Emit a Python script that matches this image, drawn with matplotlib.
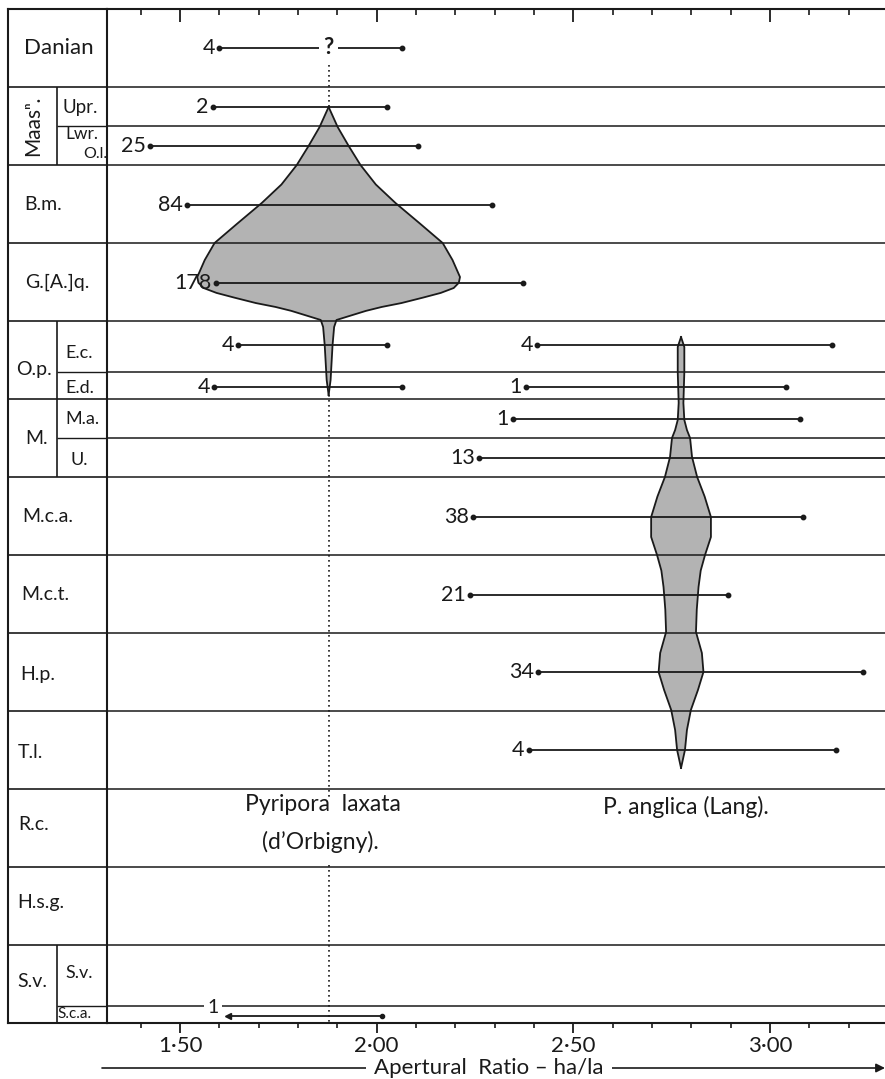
import numpy as np
import matplotlib.pyplot as plt
from matplotlib.patches import FancyArrowPatch
from matplotlib.ticker import FixedLocator, MultipleLocator

plt.rcParams['font.family'] = ['Lato', 'DejaVu Sans']

# zone scale: one main zone = 1 unit, counted down from the top of the chart
main_bounds = [1.0, 2.0, 3.0, 4.0, 5.0, 6.0, 7.0, 8.0, 9.0, 10.0, 11.0, 12.0]
sub_bounds = [1.5, 4.65, 5.5, 12.78]
inner_cols = [(1.0, 2.0), (4.0, 6.0), (12.0, 13.0)]

# zone names: (text, x in label column, y, size, rotation)
zone_labels = [
    ("Danian", 16, 0.50, 16, 0),
    ("Maasⁿ.", 25, 1.50, 15, 90),
    ("Upr.", 55, 1.26, 13.5, 0),
    ("Lwr.", 57, 1.60, 12.5, 0),
    ("O.l.", 75, 1.86, 11.5, 0),
    ("B.m.", 16, 2.50, 14, 0),
    ("G.[A.]q.", 17, 3.50, 14, 0),
    ("O.p.", 8, 4.62, 14, 0),
    ("E.c.", 57, 4.41, 13, 0),
    ("E.d.", 57, 4.86, 13, 0),
    ("M.", 17, 5.50, 14, 0),
    ("M.a.", 57, 5.26, 13, 0),
    ("U.", 62, 5.78, 13, 0),
    ("M.c.a.", 14, 6.51, 14, 0),
    ("M.c.t.", 13, 7.51, 14, 0),
    ("H.p.", 12, 8.53, 14, 0),
    ("T.l.", 10, 9.53, 14, 0),
    ("R.c.", 10, 10.46, 14, 0),
    ("H.s.g.", 9, 11.46, 14, 0),
    ("S.v.", 9, 12.47, 14, 0),
    ("S.v.", 57, 12.36, 13, 0),
    ("S.c.a.", 49, 12.89, 11, 0),
]

# Pyripora laxata: observed ranges of the apertural ratio
lax_y = [0.50, 1.26, 1.76, 2.51, 3.51, 4.31, 4.85]
lax_lo = [1.600, 1.584, 1.424, 1.518, 1.592, 1.648, 1.587]
lax_hi = [2.065, 2.026, 2.105, 2.293, 2.372, 2.026, 2.065]
lax_n = ["4", "2", "25", "84", "178", "4", "4"]
lax_mid = 1.878
sca_y, sca_lo, sca_hi, sca_n = 12.91, 1.622, 2.014, "1"

# P. anglica: observed ranges
ang_y = [4.31, 4.85, 5.26, 5.76, 6.51, 7.51, 8.50, 9.50]
ang_lo = [2.408, 2.380, 2.347, 2.260, 2.245, 2.238, 2.410, 2.387]
ang_hi = [3.158, 3.041, 3.077, 3.400, 3.084, 2.893, 3.237, 3.168]
ang_n = ["4", "1", "1", "13", "38", "21", "34", "4"]
ang_mid = 2.774

# spindle outlines: level and half width (ratio units)
lax_sy = [1.256, 1.513, 1.756, 2.0, 2.25, 2.487, 2.75, 3.0, 3.218, 3.436, 3.51, 3.577,
          3.64, 3.70, 3.77, 3.82, 3.87, 3.94, 3.987, 4.077, 4.308, 4.756, 4.949]
lax_hw = [0.0, 0.023, 0.051, 0.081, 0.120, 0.170, 0.232, 0.290, 0.315, 0.334, 0.331, 0.318,
          0.285, 0.240, 0.185, 0.135, 0.095, 0.050, 0.020, 0.014, 0.010, 0.005, 0.0]
ang_sy = [4.205, 4.333, 4.654, 5.051, 5.269, 5.397, 5.5, 5.744, 6.0, 6.25, 6.513, 6.769,
          7.0, 7.2, 7.41, 7.7, 7.987, 8.256, 8.5, 8.731, 8.987, 9.244, 9.5, 9.731]
ang_hw = [0.0, 0.0084, 0.0084, 0.006, 0.0084, 0.015, 0.023, 0.028, 0.041, 0.060, 0.076, 0.076,
          0.061, 0.050, 0.0445, 0.040, 0.038, 0.053, 0.057, 0.043, 0.025, 0.015, 0.010, 0.0]

ticks_major = [1.5, 2.0, 2.5, 3.0]
tick_labels = ["1·50", "2·00", "2·50", "3·00"]

W, H = 885, 1079
fig = plt.figure(figsize=(W / 100, H / 100), dpi=100)
top_px, bot_px, sep_px = 9, 1023, 107
axl = fig.add_axes([8 / W, 1 - bot_px / H, (sep_px - 8) / W, (bot_px - top_px) / H])
ax = fig.add_axes([sep_px / W, 1 - bot_px / H, (W - sep_px) / W, (bot_px - top_px) / H])

ink = "#1a1a1a"
lw_frame = 1.5

# label column
axl.set_xlim(0, 99)
axl.set_ylim(13, 0)
axl.set_xticks([])
axl.set_yticks([])
for s in ["left", "top", "bottom"]:
    axl.spines[s].set_linewidth(lw_frame)
    axl.spines[s].set_color(ink)
axl.spines["right"].set_visible(False)
axl.hlines(main_bounds, 0, 99, color=ink, lw=1.2)
axl.hlines(sub_bounds, 49, 99, color=ink, lw=1.0)
for y0, y1 in inner_cols:
    axl.vlines(49, y0, y1, color=ink, lw=1.2)
for txt, x, y, size, rot in zone_labels:
    axl.text(x, y, txt, fontsize=size, rotation=rot, ha="left" if rot == 0 else "center",
             va="center", color=ink)

# data area
ax.set_xlim(1.3145, 3.2926)
ax.set_ylim(13, 0)
ax.set_yticks([])
ax.spines["right"].set_visible(False)
for s in ["left", "top", "bottom"]:
    ax.spines[s].set_linewidth(lw_frame)
    ax.spines[s].set_color(ink)
ax.xaxis.set_major_locator(FixedLocator(ticks_major))
ax.set_xticklabels(tick_labels, fontsize=16, color=ink)
ax.xaxis.set_minor_locator(MultipleLocator(0.1))
ax.tick_params(axis="x", which="major", direction="out", length=7, width=1.3, pad=2,
               top=True, color=ink)
ax.tick_params(axis="x", which="minor", direction="out", length=3.5, width=1.2,
               top=True, color=ink)
# ticks on the top edge point inwards
for t in ax.xaxis.get_major_ticks():
    t.tick2line.set_marker(3)
    t.tick2line.set_markersize(9)
for t in ax.xaxis.get_minor_ticks():
    t.tick2line.set_marker(3)
    t.tick2line.set_markersize(4.5)

ax.hlines(main_bounds + sub_bounds, 1.2, 3.4, color=ink, lw=1.1, zorder=3)

# median lines (dotted)
ax.vlines(lax_mid, 0.66, 1.26, color=ink, lw=1.2, linestyles=(0, (1, 2)), zorder=1)
ax.vlines(lax_mid, 4.95, 10.12, color=ink, lw=1.2, linestyles=(0, (1, 2)), zorder=1)
ax.vlines(lax_mid, 10.98, 13, color=ink, lw=1.2, linestyles=(0, (1, 2)), zorder=1)

# spindles
fill = "#b3b3b3"
for mid, sy, hw in [(lax_mid, lax_sy, lax_hw), (ang_mid, ang_sy, ang_hw)]:
    sy = np.array(sy)
    hw = np.array(hw)
    ax.fill_betweenx(sy, mid - hw, mid + hw, facecolor=fill, edgecolor="none", zorder=2)
    ax.plot(mid - hw, sy, color=ink, lw=1.3, zorder=4)
    ax.plot(mid + hw, sy, color=ink, lw=1.3, zorder=4)

# ranges
def draw_ranges(ys, lo, hi, ns):
    for y, a, b, n in zip(ys, lo, hi, ns):
        ax.plot([a, b], [y, y], color=ink, lw=1.3, zorder=5)
        ax.plot([a, b], [y, y], ls="none", marker="o", ms=3.2, color=ink, zorder=5)
        ax.annotate(n, (a, y), xytext=(-3, 0), textcoords="offset points",
                    ha="right", va="center", fontsize=15.5, color=ink)

draw_ranges(lax_y, lax_lo, lax_hi, lax_n)
draw_ranges(ang_y, ang_lo, ang_hi, ang_n)

# Danian: median uncertain
ax.text(lax_mid, lax_y[0], "?", ha="center", va="center", fontsize=16, fontweight="bold",
        color=ink, zorder=6, bbox=dict(boxstyle="square,pad=0.2", fc="white", ec="none"))

# S.c.a. single specimen
ax.plot([sca_lo, sca_hi], [sca_y, sca_y], color=ink, lw=1.3, zorder=5)
ax.plot([sca_lo], [sca_y], marker="<", ms=4, color=ink, zorder=5)
ax.plot([sca_hi], [sca_y], marker="o", ms=3, color=ink, zorder=5)
ax.text(1.584, 12.80, sca_n, ha="center", va="center", fontsize=14, color=ink, zorder=6,
        bbox=dict(boxstyle="square,pad=0.15", fc="white", ec="none"))

# species names
ax.text(1.864, 10.20, "Pyripora  laxata", ha="center", va="center", fontsize=16.5, color=ink)
ax.text(1.856, 10.68, "(d’Orbigny).", ha="center", va="center", fontsize=16.5, color=ink)
ax.text(2.787, 10.23, "P. anglica (Lang).", ha="center", va="center", fontsize=16.5, color=ink)

# axis title with arrow, drawn under the axes so the tick labels stay on top
y_lab = 1 - 1068 / H
arrow = FancyArrowPatch((102 / W, y_lab), (1.0, y_lab), transform=fig.transFigure,
                        arrowstyle="-|>", mutation_scale=13, lw=1.2, color=ink,
                        shrinkA=0, shrinkB=0, zorder=-2)
fig.add_artist(arrow)
fig.text(489 / W, y_lab, "Apertural  Ratio – ha/la", ha="center", va="center",
         fontsize=16, color=ink, zorder=-1,
         bbox=dict(boxstyle="square,pad=0.35", fc="white", ec="none"))

fig.savefig("out.png", dpi=100)
